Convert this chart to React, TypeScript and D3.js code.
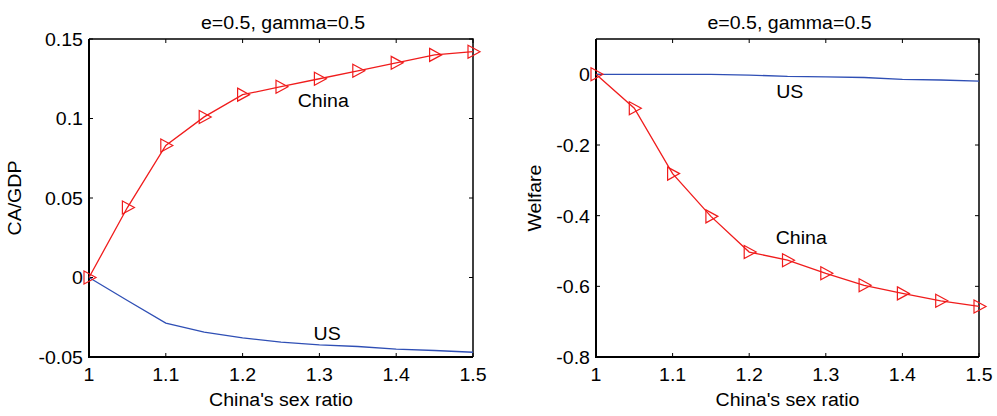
import React, { useEffect, useRef } from 'react';
import * as d3 from 'd3';

const sexRatio = [1, 1.05, 1.1, 1.15, 1.2, 1.25, 1.3, 1.35, 1.4, 1.45, 1.5];
const caChina = [0, 0.044, 0.083, 0.101, 0.115, 0.12, 0.125, 0.13, 0.135, 0.14, 0.142];
const caUS = [0, -0.0145, -0.0287, -0.0344, -0.038, -0.0407, -0.0424, -0.0434, -0.0451, -0.0459, -0.047];
const welfareChina = [0, -0.096, -0.281, -0.402, -0.503, -0.526, -0.563, -0.597, -0.62, -0.641, -0.657];
const welfareUS = [0, 0, 0, 0, -0.002, -0.006, -0.007, -0.009, -0.014, -0.016, -0.019];
const xTicks = [1, 1.1, 1.2, 1.3, 1.4, 1.5];
const caTicks = [-0.05, 0, 0.05, 0.1, 0.15];
const welfareTicks = [-0.8, -0.6, -0.4, -0.2, 0];

const FONT = '"Liberation Sans", Arial, Helvetica, sans-serif';
const STRETCH = 1.03; // the source image text is a touch wider than plain Arial

type Panel = {
  left: number;
  right: number;
  yDomain: [number, number];
  yTicks: number[];
  yLabel: string;
  yLabelX: number;
  china: number[];
  us: number[];
  chinaLabel: [number, number];
  usLabel: [number, number];
};

const panels: Panel[] = [
  {
    left: 89, right: 473, yDomain: [-0.05, 0.15], yTicks: caTicks, yLabel: 'CA/GDP', yLabelX: 21,
    china: caChina, us: caUS, chinaLabel: [1.305, 0.107], usLabel: [1.31, -0.039],
  },
  {
    left: 596, right: 979, yDomain: [-0.8, 0.1], yTicks: welfareTicks, yLabel: 'Welfare', yLabelX: 541,
    china: welfareChina, us: welfareUS, chinaLabel: [1.268, -0.48], usLabel: [1.253, -0.068],
  },
];

const fmt = (t: number) => d3.format('~g')(t).replace('\u2212', '-');

const App = () => {
  const svgRef = useRef<SVGSVGElement>(null);

  useEffect(() => {
    const svg = d3.select(svgRef.current);
    svg.selectAll('*').remove();

    const top = 39;
    const bottom = 357;

    panels.forEach(p => {
      const x = d3.scaleLinear().domain([1, 1.5]).range([p.left, p.right]);
      const y = d3.scaleLinear().domain(p.yDomain).range([bottom, top]);
      const g = svg.append('g').style('font-family', FONT).style('font-size', '19px');

      const txt = (tx: number, ty: number, s: string, anchor = 'middle', rot = 0, dy = '0') =>
        g.append('text')
          .attr('transform', `translate(${tx},${ty}) rotate(${rot}) scale(${STRETCH},1)`)
          .attr('text-anchor', anchor)
          .attr('dy', dy)
          .text(s);

      // title
      txt((p.left + p.right) / 2 + 2, 29, 'e=0.5, gamma=0.5');

      // inner ticks on all four sides (MATLAB style box)
      xTicks.forEach(t => {
        g.append('line').attr('x1', x(t)).attr('x2', x(t)).attr('y1', bottom).attr('y2', bottom - 4).attr('stroke', '#000');
        g.append('line').attr('x1', x(t)).attr('x2', x(t)).attr('y1', top).attr('y2', top + 4).attr('stroke', '#000');
        txt(x(t), 381, fmt(t));
      });
      p.yTicks.forEach(t => {
        g.append('line').attr('x1', p.left).attr('x2', p.left + 4).attr('y1', y(t)).attr('y2', y(t)).attr('stroke', '#000');
        g.append('line').attr('x1', p.right).attr('x2', p.right - 4).attr('y1', y(t)).attr('y2', y(t)).attr('stroke', '#000');
        txt(p.left - 6, y(t), fmt(t), 'end', 0, '0.36em');
      });

      // box
      g.append('path')
        .attr('d', `M${p.left},${top}V${bottom}H${p.right}`)
        .attr('fill', 'none')
        .attr('stroke', '#000')
        .attr('stroke-width', 2);
      g.append('path')
        .attr('d', `M${p.left},${top}H${p.right}V${bottom}`)
        .attr('fill', 'none')
        .attr('stroke', '#000')
        .attr('stroke-width', 1.5);

      // axis labels
      txt((p.left + p.right) / 2, 406, "China's sex ratio");
      txt(p.yLabelX, (top + bottom) / 2, p.yLabel, 'middle', -90);

      const line = d3.line<number>()
        .x((_, i) => x(sexRatio[i]))
        .y(d => y(d));

      g.append('path')
        .datum(p.us)
        .attr('d', line)
        .attr('fill', 'none')
        .attr('stroke', '#2f4fb5')
        .attr('stroke-width', 1.3);

      g.append('path')
        .datum(p.china)
        .attr('d', line)
        .attr('fill', 'none')
        .attr('stroke', '#f01c1c')
        .attr('stroke-width', 1.3);

      // right-pointing triangle markers
      g.selectAll('.marker')
        .data(p.china)
        .join('path')
        .attr('class', 'marker')
        .attr('transform', (d, i) => `translate(${x(sexRatio[i])},${y(d)})`)
        .attr('d', 'M-5,-6.5L7,0L-5,6.5Z')
        .attr('fill', 'none')
        .attr('stroke', '#f01c1c')
        .attr('stroke-width', 1.2);

      txt(x(p.chinaLabel[0]), y(p.chinaLabel[1]), 'China');
      txt(x(p.usLabel[0]), y(p.usLabel[1]), 'US');
    });
  }, []);

  return (
    <svg ref={svgRef} width="997" height="416" style={{ position: 'absolute', left: 0, top: 0, background: '#fff' }}></svg>
  );
};

export default App;
